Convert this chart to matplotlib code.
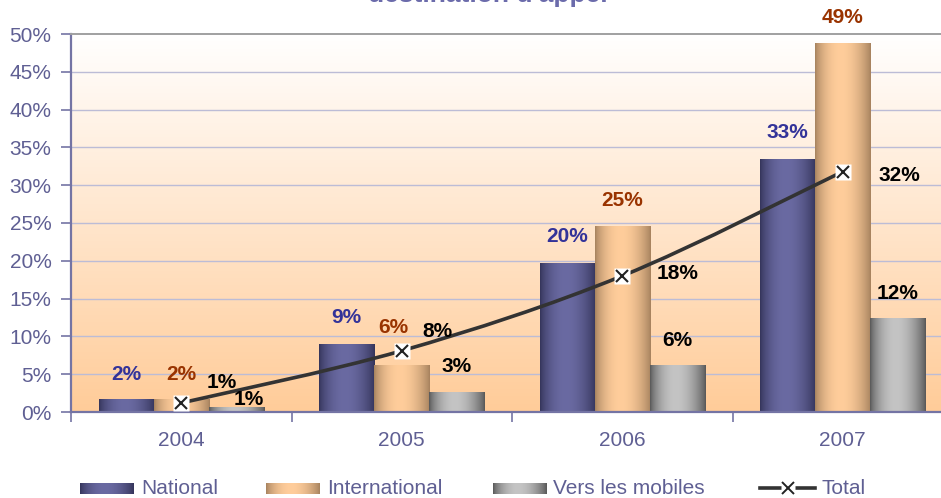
import numpy as np
import matplotlib
matplotlib.use("Agg")
import matplotlib.pyplot as plt
from matplotlib.path import Path
from matplotlib.patches import PathPatch
from matplotlib.lines import Line2D

plt.rcParams['font.family'] = ['Liberation Sans', 'DejaVu Sans']

# ---------------- data ----------------
categories = ["2004", "2005", "2006", "2007"]
national = [1.6, 8.9, 19.6, 33.4]
international = [1.6, 6.1, 24.6, 48.7]
mobiles = [0.6, 2.6, 6.1, 12.4]
total = [1.2, 8.1, 18.0, 31.8]
series_names = ["National", "International", "Vers les mobiles", "Total"]
y_ticks = [0, 5, 10, 15, 20, 25, 30, 35, 40, 45, 50]
y_tick_labels = [f"{t}%" for t in y_ticks]
title_text = "destination d'appel"

# label offsets in pixels (dx, dy) -- layout only
nat_off = [(0, 25), (0, 27), (0, 27), (0, 27)]
int_off = [(0, 25), (-8, 38), (0, 26), (0, 26)]
mob_off = [(12, 8), (0, 26), (0, 25), (0, 25)]
tot_off = [(41, 20), (36, 19), (55, 2), (57, -4)]

# ---------------- style ----------------
W, H = 941, 498
fig = plt.figure(figsize=(W / 100, H / 100), dpi=100)
ax_left, ax_bottom, ax_top = 71, 412, 34
cat_w = 220.5
ax = fig.add_axes([ax_left / W, (H - ax_bottom) / H, 4 * cat_w / W, (ax_bottom - ax_top) / H])

axis_col = "#7474a4"
tick_col = "#5f5f93"
grid_col = "#bcbcd6"
fs = 15

x = np.arange(len(categories))
bw = 0.25

# background gradient
bg = np.linspace(0, 1, 256)[:, None]
top_c = np.array([255, 255, 255]) / 255
bot_c = np.array([255, 204, 153]) / 255
bg_img = (top_c[None, None, :] * (1 - bg[:, :, None]) + bot_c[None, None, :] * bg[:, :, None])
ax.imshow(bg_img, extent=[-0.5, 3.5, 0, 50], aspect='auto', zorder=0, origin='upper')

for t in y_ticks[1:-1]:
    ax.axhline(t, color=grid_col, lw=1.0, zorder=1)


def grad(edge, mid, n=96):
    t = np.linspace(0, 1, n)
    p = np.clip(np.sin(np.pi * (t ** 0.9)), 0, 1) ** 0.8
    e = np.array(edge) / 255
    m = np.array(mid) / 255
    return (e[None, :] * (1 - p[:, None]) + m[None, :] * p[:, None])[None, :, :]


grads = [grad((52, 52, 90), (106, 106, 162)),
         grad((166, 130, 94), (255, 205, 155)),
         grad((88, 88, 88), (196, 196, 196))]

containers = []
for i, (vals, g) in enumerate(zip([national, international, mobiles], grads)):
    bars = ax.bar(x + (i - 1) * bw, vals, width=bw, facecolor='none', edgecolor='none', zorder=2)
    for r in bars:
        x0, y0 = r.get_xy()
        ax.imshow(g, extent=[x0, x0 + r.get_width(), y0, y0 + r.get_height()],
                  aspect='auto', zorder=2, interpolation='bilinear')
    containers.append(bars)

# smoothed total line (cubic bezier through points)
pts = np.column_stack([x, total]).astype(float)
verts = [tuple(pts[0])]
codes = [Path.MOVETO]
for k in range(len(pts) - 1):
    p0 = pts[k - 1] if k > 0 else pts[k]
    p1, p2 = pts[k], pts[k + 1]
    p3 = pts[k + 2] if k + 2 < len(pts) else pts[k + 1]
    c1 = p1 + (p2 - p0) / 6
    c2 = p2 - (p3 - p1) / 6
    verts += [tuple(c1), tuple(c2), tuple(p2)]
    codes += [Path.CURVE4] * 3
ax.add_patch(PathPatch(Path(verts, codes), facecolor='none', edgecolor='#333333', lw=2.6,
                       zorder=4, capstyle='round'))
ax.plot(x, total, 's', ms=11.5, mfc='white', mec='none', zorder=5)
ax.plot(x, total, 'x', ms=8.5, mew=1.5, color='#222222', zorder=6)

lab_kw = dict(textcoords='offset pixels', ha='center', va='center', fontsize=fs,
              fontweight='bold', zorder=7, annotation_clip=False)
for i in range(len(categories)):
    ax.annotate(f"{int(national[i] + 0.5)}%", (x[i] - bw, national[i]), xytext=nat_off[i],
                color='#333399', **lab_kw)
    ax.annotate(f"{int(international[i] + 0.5)}%", (x[i], international[i]), xytext=int_off[i],
                color='#993300', **lab_kw)
    ax.annotate(f"{int(mobiles[i] + 0.5)}%", (x[i] + bw, mobiles[i]), xytext=mob_off[i],
                color='black', **lab_kw)
    ax.annotate(f"{int(total[i] + 0.5)}%", (x[i], total[i]), xytext=tot_off[i],
                color='black', **lab_kw)

ax.set_xlim(-0.5, 3.5)
ax.set_ylim(0, 50)
ax.set_yticks(y_ticks)
ax.set_yticklabels(y_tick_labels)
ax.set_xticks(x)
ax.set_xticklabels(categories)
ax.set_xticks(np.arange(-0.5, 3.6, 1), minor=True)
ax.tick_params(axis='x', which='major', length=0, pad=14, labelsize=fs, labelcolor=tick_col)
ax.tick_params(axis='x', which='minor', length=7, width=1.2, color=axis_col, direction='out')
ax.tick_params(axis='y', length=7, width=1.2, color=axis_col, labelsize=fs, labelcolor=tick_col, pad=7)
for s in ['left', 'bottom']:
    ax.spines[s].set_color(axis_col)
    ax.spines[s].set_linewidth(1.6)
ax.spines['top'].set_color('#a0a0a0')
ax.spines['top'].set_linewidth(1.4)
ax.spines['right'].set_visible(False)

# title (cropped at top, as in the reference)
fig.text(488 / W, 1 - 2 / H, title_text, ha='center', va='baseline', fontsize=19,
         fontweight='bold', color='#6b6bab')

# manual legend
leg_y = 488
patch_x = [80, 266, 493]
text_x = [141, 327, 553]
for px, tx, g, name in zip(patch_x, text_x, grads, series_names[:3]):
    la = fig.add_axes([px / W, (H - 494) / H, 54 / W, 11 / H])
    la.imshow(g, aspect='auto', interpolation='bilinear')
    la.axis('off')
    fig.text(tx / W, (H - leg_y) / H, name, ha='left', va='center', fontsize=fs, color=tick_col)
fig.add_artist(Line2D([760 / W, 815 / W], [(H - leg_y) / H] * 2, color='#333333', lw=2.6))
fig.add_artist(Line2D([787.5 / W], [(H - leg_y) / H], marker='s', ms=10, mfc='white', mec='none'))
fig.add_artist(Line2D([787.5 / W], [(H - leg_y) / H], marker='x', ms=8, mew=1.4, color='#222222'))
fig.text(822 / W, (H - leg_y) / H, series_names[3], ha='left', va='center', fontsize=fs, color=tick_col)

fig.savefig("out.png", dpi=100, facecolor='white')
